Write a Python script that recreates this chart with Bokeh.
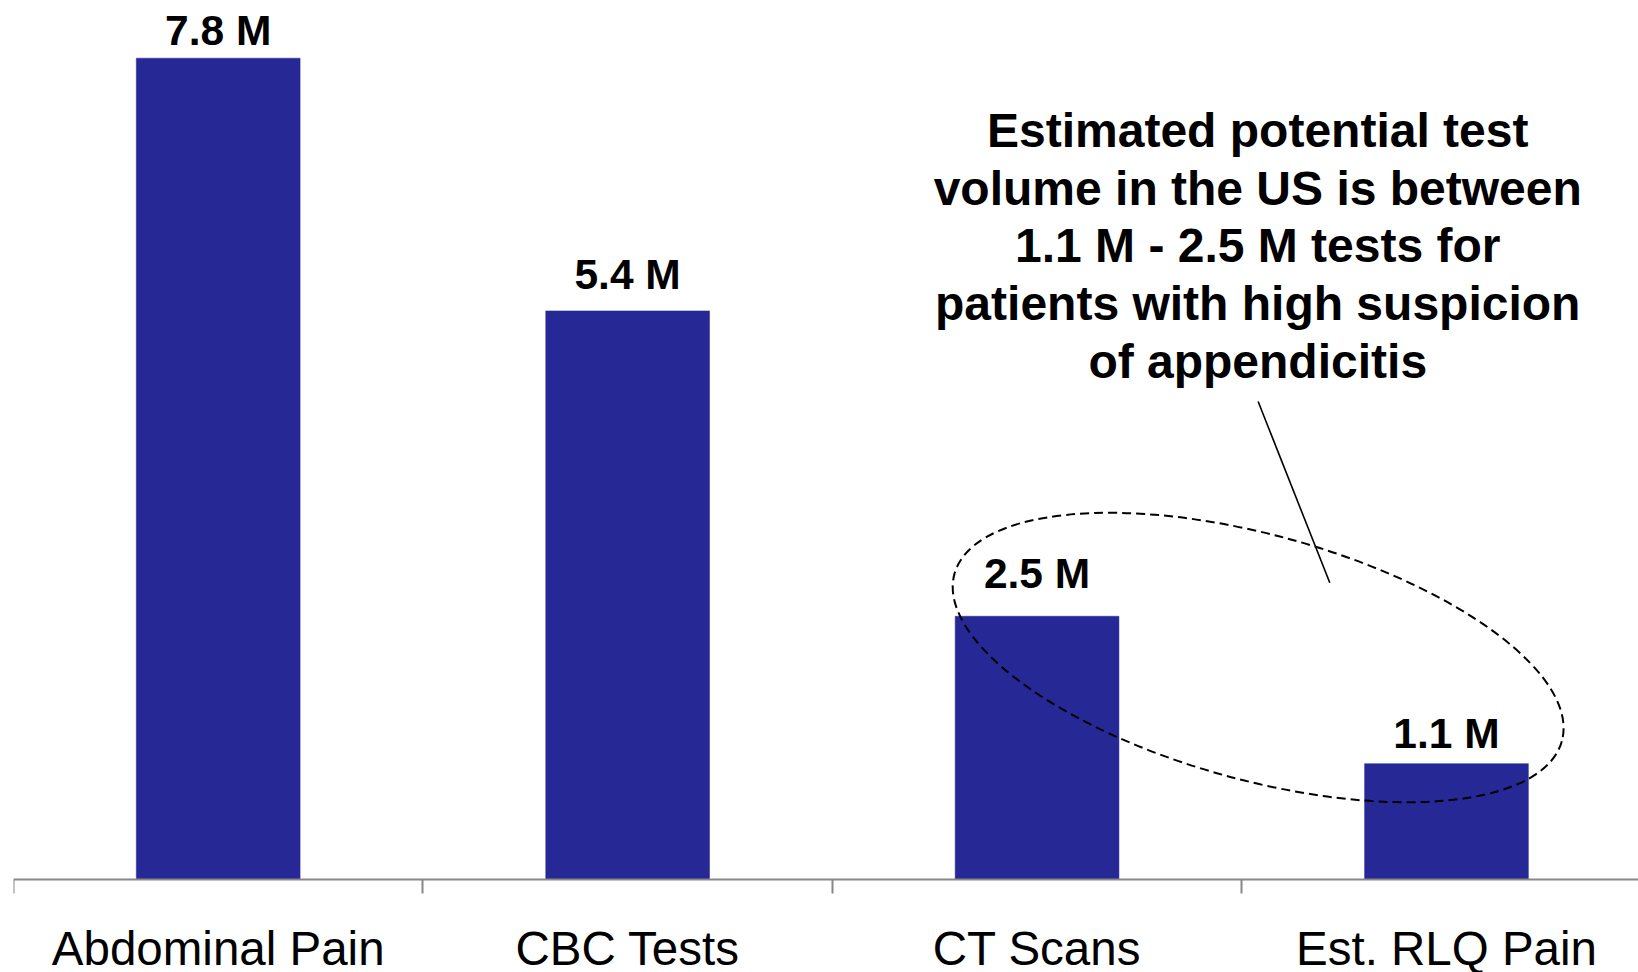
from bokeh.plotting import figure
from bokeh.models import ColumnDataSource, Range1d, LinearAxis, FixedTicker, LabelSet
from bokeh.core.properties import value
from bokeh.embed import file_html
from bokeh.resources import INLINE

# ---------------- data ----------------
categories = ["Abdominal Pain", "CBC Tests", "CT Scans", "Est. RLQ Pain"]
volumes_m = [7.8, 5.4, 2.5, 1.1]
value_labels = ["7.8 M", "5.4 M", "2.5 M", "1.1 M"]
annotation_lines = [
    "Estimated potential test",
    "volume in the US is between",
    "1.1 M - 2.5 M tests for",
    "patients with high suspicion",
    "of appendicitis",
]

# ---------------- styling / layout ----------------
BAR_COLOR = "#262896"
AXIS_COLOR = "#888888"
FONT = "Liberation Sans"
label_gap_px = [13, 22, 28, 16]          # gap between bar top and value label baseline
LINE_SPACING_PX = 57.7

# annotation placement (data coordinates)
ANNOT_X = 3.039
ANNOT_TOP_Y = 7.113
ELLIPSE_X, ELLIPSE_Y = 3.040, 2.108
LEADER = dict(x0=3.040, y0=4.539, x1=3.215, y1=2.818)

W, H = 1638, 972
n = len(categories)
xc = [i + 0.5 for i in range(n)]
bounds = list(range(n + 1))

p = figure(
    width=W, height=H, output_backend="svg", toolbar_location=None,
    x_range=Range1d(0, 3.969), y_range=Range1d(-0.8832, 8.3476),
    x_axis_location=None, y_axis_location=None,
    min_border_left=13, min_border_right=0, min_border_top=0, min_border_bottom=0,
    outline_line_color=None, background_fill_color="white", border_fill_color="white",
)
p.grid.visible = False

src = ColumnDataSource(dict(
    x=xc, cat=categories, v=volumes_m, lab=value_labels, gap=label_gap_px,
))

p.vbar(x="x", top="v", width=0.4, bottom=0, source=src,
       fill_color=BAR_COLOR, line_color=BAR_COLOR, line_width=0.5)

# x axis at y = 0: labels at category centres, boundary ticks as minor ticks
ax = LinearAxis(
    fixed_location=0,
    ticker=FixedTicker(ticks=xc, minor_ticks=bounds),
    major_label_overrides={x: c for x, c in zip(xc, categories)},
)
ax.axis_line_color = AXIS_COLOR
ax.axis_line_width = 2
ax.major_tick_line_color = None
ax.major_tick_in = 0
ax.major_tick_out = 0
ax.minor_tick_line_color = AXIS_COLOR
ax.minor_tick_line_width = 2
ax.minor_tick_in = 0
ax.minor_tick_out = 14
ax.major_label_standoff = 29
ax.major_label_text_font = FONT
ax.major_label_text_font_size = "47.5px"
ax.major_label_text_color = "black"
p.add_layout(ax, "below")

# value labels
p.add_layout(LabelSet(
    x="x", y="v", text="lab", source=src, y_offset="gap",
    text_align="center", text_baseline="alphabetic",
    text_font=value(FONT), text_font_size="42.5px", text_font_style="bold", text_color="black",
))

# annotation text
asrc = ColumnDataSource(dict(
    x=[ANNOT_X] * len(annotation_lines),
    y=[ANNOT_TOP_Y] * len(annotation_lines),
    t=annotation_lines,
    off=[-i * LINE_SPACING_PX for i in range(len(annotation_lines))],
))
p.add_layout(LabelSet(
    x="x", y="y", text="t", source=asrc, y_offset="off",
    text_align="center", text_baseline="middle",
    text_font=value(FONT), text_font_size="48px", text_font_style="bold", text_color="black",
))

# dashed ellipse + leader line
p.ellipse(x=[ELLIPSE_X], y=[ELLIPSE_Y], width=[630], height=[245], angle=[-15.4],
          angle_units="deg", width_units="screen", height_units="screen",
          fill_color=None, line_color="black", line_width=2, line_dash="9 5")
p.segment(x0=[LEADER["x0"]], y0=[LEADER["y0"]], x1=[LEADER["x1"]], y1=[LEADER["y1"]],
          line_color="black", line_width=1.6)

open("out.html", "w").write(file_html(p, INLINE))
